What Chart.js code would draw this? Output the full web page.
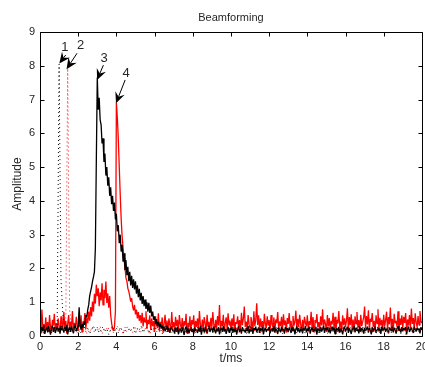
<!DOCTYPE html>
<html>
<head>
<meta charset="utf-8">
<title>Beamforming</title>
<script src="https://cdn.jsdelivr.net/npm/chart.js@4.4.0/dist/chart.umd.min.js"></script>
<style>
  html, body { margin: 0; padding: 0; background: #fff; overflow: hidden; }
  #wrap { width: 425px; height: 367px; overflow: hidden; }
  canvas { display: block; }
</style>
</head>
<body>
<div id="wrap"><canvas id="beamChart" width="432" height="367"></canvas></div>
<script>
// axis ticks
const xTicks = [0, 2, 4, 6, 8, 10, 12, 14, 16, 18, 20];
const yTicks = [0, 1, 2, 3, 4, 5, 6, 7, 8, 9];

// red solid trace, sampled every 0.05 ms from 0 ms
const redStart = 0, redStep = 0.05;
const redSolid = [
  0.42,0.15,0.78,0.22,0.35,0.08,0.55,0.18,0.41,0.12,0.62,0.25,0.09,0.48,0.31,0.66,0.14,0.38,0.21,0.52,
  0.27,0.11,0.58,0.33,0.19,0.71,0.24,0.45,0.07,0.36,0.62,0.17,0.43,0.28,0.74,0.13,0.39,0.22,0.57,0.31,
  0.16,0.49,0.26,0.61,0.12,0.44,0.34,0.68,0.21,0.53,0.38,0.72,0.45,0.86,0.58,1.02,0.72,1.25,0.96,1.52,
  1.18,1.41,0.88,1.29,1.05,1.56,0.92,1.37,1.12,1.61,0.98,1.26,0.84,1.18,0.63,0.38,0.22,0.15,0.26,0.74,
  6.92,6.45,5.85,5.02,4.21,3.48,2.95,2.62,2.31,2.05,1.72,1.63,1.41,1.32,1.18,1.02,1.12,0.88,0.76,0.92,
  0.64,0.78,0.52,0.71,0.45,0.62,0.38,0.69,0.28,0.55,0.41,0.73,0.22,0.48,0.35,0.61,0.18,0.52,0.29,0.44,
  0.12,0.58,0.33,0.24,0.67,0.15,0.42,0.28,0.55,0.09,0.37,0.63,0.21,0.46,0.13,0.52,0.32,0.19,0.71,0.26,
  0.41,0.14,0.57,0.29,0.48,0.11,0.62,0.35,0.22,0.53,0.17,0.44,0.31,0.66,0.08,0.39,0.25,0.58,0.16,0.47,
  0.34,0.61,0.12,0.45,0.27,0.52,0.19,0.74,0.33,0.15,0.49,0.23,0.56,0.38,0.11,0.63,0.28,0.42,0.18,0.54,
  0.26,0.71,0.35,0.14,0.48,0.22,0.59,0.31,0.92,0.17,0.45,0.29,0.63,0.12,0.38,0.55,0.21,0.67,0.33,0.46,
  0.19,0.52,0.28,0.64,0.13,0.41,0.36,0.58,0.24,0.47,0.15,0.69,0.32,0.51,0.87,0.27,0.43,0.18,0.62,0.35,
  0.22,0.56,0.41,0.14,0.73,0.29,0.48,0.97,0.33,0.61,0.18,0.52,0.26,0.44,0.12,0.66,0.37,0.23,0.58,0.31,
  0.47,0.16,0.62,0.34,0.25,0.55,0.13,0.49,0.38,0.71,0.21,0.43,0.29,0.57,0.17,0.64,0.32,0.46,0.11,0.53,
  0.36,0.68,0.24,0.45,0.15,0.59,0.31,0.42,0.75,0.19,0.51,0.27,0.63,0.35,0.14,0.48,0.22,0.57,0.39,0.28,
  0.61,0.17,0.44,0.33,0.72,0.21,0.56,0.12,0.47,0.38,0.65,0.26,0.41,0.18,0.58,0.31,0.79,0.23,0.49,0.36,
  0.14,0.62,0.28,0.53,0.19,0.45,0.34,0.69,0.22,0.57,0.11,0.48,0.37,0.74,0.25,0.43,0.16,0.61,0.32,0.52,
  0.27,0.45,0.82,0.18,0.56,0.33,0.64,0.21,0.49,0.13,0.58,0.36,0.71,0.24,0.47,0.15,0.63,0.29,0.42,0.55,
  0.87,0.22,0.59,0.34,0.76,0.18,0.51,0.42,0.68,0.26,0.45,0.13,0.61,0.37,0.79,0.21,0.54,0.31,0.48,0.17,
  0.63,0.28,0.47,0.72,0.19,0.56,0.35,0.84,0.23,0.51,0.14,0.66,0.38,0.45,0.27,0.73,0.16,0.52,0.33,0.61,
  0.24,0.57,0.39,0.68,0.15,0.49,0.31,0.62,0.22,0.81,0.36,0.53,0.18,0.67,0.41,0.26,0.59,0.32,0.74,0.45,
  0.38
];

// black solid trace, sampled every 0.05 ms from 0 ms
const blackStart = 0, blackStep = 0.05;
const blackSolid = [
  0.21,0.08,0.27,0.14,0.32,0.06,0.19,0.25,0.11,0.29,0.16,0.04,0.23,0.31,0.12,0.26,0.09,0.18,0.28,0.13,
  0.24,0.07,0.30,0.17,0.22,0.10,0.27,0.15,0.33,0.05,0.20,0.26,0.12,0.29,0.18,0.08,0.25,0.34,0.14,0.22,
  0.28,0.85,0.31,0.19,0.36,0.24,0.42,0.33,0.62,0.55,0.78,0.92,1.18,1.32,1.45,1.62,1.75,1.90,2.60,5.20,
  7.65,6.70,7.05,6.40,6.25,5.70,5.85,5.15,5.40,4.75,5.00,4.45,4.70,4.15,4.40,3.90,4.15,3.70,3.95,3.45,
  3.62,3.10,3.28,2.75,3.00,2.50,2.70,2.20,2.45,1.95,2.25,1.80,2.05,1.62,1.90,1.50,1.78,1.42,1.68,1.38,
  1.62,1.25,1.50,1.15,1.40,1.05,1.28,0.95,1.18,0.88,1.08,0.80,1.00,0.72,0.98,0.68,0.90,0.58,0.72,0.48,
  0.58,0.36,0.50,0.30,0.42,0.26,0.36,0.22,0.31,0.18,0.28,0.14,0.22,0.31,0.12,0.25,0.09,0.21,0.28,0.15,
  0.18,0.07,0.24,0.13,0.27,0.05,0.16,0.22,0.10,0.26,0.14,0.03,0.20,0.28,0.11,0.23,0.08,0.17,0.25,0.12,
  0.21,0.06,0.26,0.15,0.19,0.09,0.24,0.13,0.29,0.04,0.18,0.23,0.11,0.27,0.16,0.07,0.22,0.30,0.12,0.20,
  0.25,0.10,0.28,0.17,0.08,0.22,0.14,0.26,0.05,0.19,0.24,0.12,0.29,0.15,0.21,0.06,0.18,0.27,0.11,0.23,
  0.16,0.27,0.09,0.21,0.13,0.25,0.04,0.19,0.28,0.12,0.22,0.07,0.26,0.15,0.18,0.10,0.24,0.14,0.29,0.08,
  0.20,0.13,0.26,0.06,0.23,0.17,0.28,0.11,0.19,0.25,0.09,0.22,0.14,0.27,0.05,0.18,0.24,0.12,0.21,0.16,
  0.27,0.08,0.19,0.24,0.13,0.29,0.10,0.22,0.16,0.06,0.25,0.18,0.11,0.28,0.14,0.21,0.07,0.26,0.17,0.23,
  0.12,0.25,0.18,0.09,0.27,0.15,0.22,0.05,0.20,0.28,0.13,0.24,0.10,0.19,0.26,0.08,0.23,0.16,0.29,0.11,
  0.22,0.14,0.28,0.07,0.19,0.25,0.12,0.21,0.16,0.27,0.04,0.23,0.18,0.10,0.26,0.13,0.20,0.29,0.09,0.24,
  0.17,0.26,0.11,0.23,0.08,0.20,0.28,0.14,0.25,0.06,0.19,0.22,0.13,0.27,0.10,0.24,0.16,0.05,0.21,0.28,
  0.13,0.21,0.27,0.09,0.24,0.16,0.06,0.22,0.18,0.29,0.11,0.25,0.15,0.20,0.08,0.26,0.12,0.23,0.19,0.07,
  0.24,0.15,0.20,0.28,0.10,0.23,0.17,0.05,0.26,0.13,0.21,0.27,0.09,0.18,0.25,0.14,0.22,0.06,0.28,0.16,
  0.19,0.27,0.12,0.22,0.16,0.08,0.25,0.20,0.14,0.28,0.11,0.24,0.18,0.07,0.23,0.29,0.15,0.21,0.10,0.26,
  0.14,0.23,0.18,0.26,0.05,0.21,0.28,0.12,0.19,0.24,0.16,0.09,0.27,0.20,0.13,0.25,0.17,0.22,0.08,0.26,
  0.18
];

// black dotted trace, sampled every 0.1 ms from 0 ms
const dotBlackStart = 0, dotBlackStep = 0.1;
const dotBlack = [
  0.12,0.22,0.08,0.18,0.27,0.10,0.20,0.15,0.25,0.32,8.05,1.65,0.62,0.28,0.14,0.24,0.09,0.19,0.26,0.11,
  0.21,0.07,0.17,0.28,0.13,0.23,0.06,0.19,0.29,0.15,0.25,0.09,0.20,0.27,0.12,0.22,0.05,0.18,0.30,0.14,
  0.24,0.10,0.26,0.16,0.08,0.21,0.28,0.13,0.19,0.25,0.07,0.23,0.17,0.29,0.11,0.20,0.26,0.09,0.22,0.15,
  0.27,0.12,0.18,0.24,0.06,0.21,0.29,0.14,0.25,0.10,0.19,0.28,0.08,0.23,0.16,0.26,0.11,0.20,0.13,0.27,
  0.09,0.22,0.17,0.30,0.12,0.25,0.07,0.19,0.26,0.15,0.21,0.10,0.28,0.18,0.24,0.06,0.20,0.27,0.13,0.23,
  0.16,0.29,0.08,0.21,0.26,0.11,0.24,0.18,0.05,0.22,0.28,0.14,0.19,0.25,0.09,0.27,0.15,0.23,0.12,0.20,
  0.26,0.10,0.23,0.17,0.29,0.13,0.21,0.07,0.25,0.18,0.11,0.27,0.16,0.24,0.08,0.20,0.28,0.14,0.22,0.06,
  0.19,0.25,0.12,0.28,0.15,0.22,0.09,0.26,0.17,0.23,0.13,0.30,0.10,0.21,0.27,0.16,0.24,0.07,0.20,0.29,
  0.14,0.23,0.18,0.08,0.26,0.21,0.12,0.28,0.16,0.25,0.06,0.22,0.19,0.27,0.11,0.24,0.15,0.29,0.09,0.20,
  0.25,0.13,0.21,0.28,0.10,0.18,0.26,0.15,0.23,0.07,0.20,0.27,0.12,0.24,0.17,0.29,0.11,0.22,0.16,0.26,
  0.19
];

// red dotted trace, sampled every 0.1 ms from 0.05 ms
const dotRedStart = 0.05, dotRedStep = 0.1;
const dotRed = [
  0.18,0.09,0.26,0.14,0.21,0.07,0.24,0.16,0.29,0.11,0.20,0.27,0.13,0.31,7.92,0.78,0.32,0.15,0.23,0.10,
  0.25,0.12,0.19,0.28,0.08,0.22,0.17,0.26,0.11,0.24,0.14,0.29,0.06,0.21,0.18,0.27,0.13,0.23,0.09,0.20,
  0.28,0.15,0.22,0.07,0.26,0.12,0.19,0.24,0.10,0.29,0.16,0.21,0.08,0.25,0.13,0.27,0.18,0.05,0.23,0.14,
  0.20,0.26,0.11,0.23,0.17,0.28,0.09,0.22,0.15,0.25,0.06,0.19,0.27,0.12,0.24,0.16,0.21,0.10,0.28,0.13,
  0.23,0.08,0.26,0.18,0.12,0.25,0.20,0.07,0.22,0.29,0.14,0.19,0.24,0.11,0.27,0.16,0.09,0.21,0.26,0.15,
  0.12,0.24,0.19,0.28,0.06,0.21,0.15,0.26,0.10,0.23,0.18,0.29,0.13,0.20,0.25,0.08,0.22,0.17,0.27,0.11,
  0.26,0.14,0.21,0.09,0.24,0.18,0.28,0.12,0.20,0.07,0.25,0.16,0.23,0.29,0.10,0.19,0.26,0.13,0.22,0.17,
  0.09,0.27,0.15,0.22,0.19,0.25,0.11,0.28,0.16,0.21,0.06,0.24,0.18,0.13,0.26,0.20,0.08,0.23,0.29,0.14,
  0.21,0.16,0.28,0.10,0.23,0.13,0.26,0.19,0.07,0.25,0.17,0.22,0.11,0.27,0.15,0.24,0.09,0.20,0.28,0.12,
  0.18,0.25,0.08,0.22,0.27,0.14,0.20,0.11,0.26,0.16,0.23,0.05,0.29,0.19,0.13,0.24,0.17,0.28,0.10,0.21
];

// numbered arrows pointing at the four peaks (data coordinates)
const markLabels = ['1', '2', '3', '4'];
const markTipT  = [1.01, 1.39, 2.99, 3.98];
const markTipA  = [8.07, 7.90, 7.58, 6.89];
const markTailT = [1.35, 1.94, 3.32, 4.46];
const markTailA = [8.32, 8.37, 8.02, 7.58];
const markTextT = [1.30, 2.13, 3.36, 4.51];
const markTextA = [8.53, 8.61, 8.22, 7.76];

const FONT = "'Liberation Sans', Arial, Helvetica, sans-serif";
const TEXT = '#262626';

function toPoints(start, step, values) {
    return values.map((v, i) => ({ x: +(start + i * step).toFixed(3), y: v }));
}

// MATLAB-like box with ticks pointing inwards on all four sides, plus the title
const axesBox = {
    id: 'axesBox',
    afterDatasetsDraw(chart) {
        const { ctx, chartArea: a, scales: { x, y } } = chart;
        ctx.save();
        ctx.strokeStyle = '#000';
        ctx.lineWidth = 1;
        const l = Math.round(a.left) + 0.5, r = Math.round(a.right) + 0.5;
        const t = Math.round(a.top) + 0.5, b = Math.round(a.bottom) + 0.5;
        ctx.beginPath();
        ctx.rect(l, t, r - l, b - t);
        xTicks.forEach(v => {
            const px = Math.round(x.getPixelForValue(v)) + 0.5;
            ctx.moveTo(px, b); ctx.lineTo(px, b - 4);
            ctx.moveTo(px, t); ctx.lineTo(px, t + 4);
        });
        yTicks.forEach(v => {
            const py = Math.round(y.getPixelForValue(v)) + 0.5;
            ctx.moveTo(l, py); ctx.lineTo(l + 4, py);
            ctx.moveTo(r, py); ctx.lineTo(r - 4, py);
        });
        ctx.stroke();

        ctx.fillStyle = TEXT;
        ctx.font = '11px ' + FONT;
        ctx.textAlign = 'center';
        ctx.textBaseline = 'middle';
        ctx.fillText('Beamforming', (a.left + a.right) / 2, 18);
        ctx.restore();
    }
};

// arrows with filled heads and the peak numbers
const peakMarks = {
    id: 'peakMarks',
    afterDraw(chart) {
        const { ctx, scales: { x, y } } = chart;
        ctx.save();
        ctx.lineWidth = 1;
        markLabels.forEach((label, i) => {
            const tx = x.getPixelForValue(markTipT[i]), ty = y.getPixelForValue(markTipA[i]);
            const sx = x.getPixelForValue(markTailT[i]), sy = y.getPixelForValue(markTailA[i]);
            const ang = Math.atan2(ty - sy, tx - sx);
            const len = 11, half = 5, notch = 7;
            const c = Math.cos(ang), s = Math.sin(ang);
            ctx.strokeStyle = '#000';
            ctx.fillStyle = '#000';
            ctx.beginPath();
            ctx.moveTo(sx, sy);
            ctx.lineTo(tx - c * notch, ty - s * notch);
            ctx.stroke();
            const bx = tx - c * len, by = ty - s * len;
            ctx.beginPath();
            ctx.moveTo(tx, ty);
            ctx.lineTo(bx + s * half, by - c * half);
            ctx.lineTo(tx - c * notch, ty - s * notch);
            ctx.lineTo(bx - s * half, by + c * half);
            ctx.closePath();
            ctx.fill();

            ctx.fillStyle = TEXT;
            ctx.font = '13px ' + FONT;
            ctx.textAlign = 'center';
            ctx.textBaseline = 'middle';
            ctx.fillText(label, x.getPixelForValue(markTextT[i]), y.getPixelForValue(markTextA[i]));
        });
        ctx.restore();
    }
};

function lineSet(label, pts, color, width, dash) {
    return {
        label: label,
        data: pts,
        borderColor: color,
        borderWidth: width,
        borderDash: dash || [],
        borderJoinStyle: 'bevel',
        pointRadius: 0,
        tension: 0,
        fill: false
    };
}

new Chart(document.getElementById('beamChart'), {
    type: 'line',
    data: {
        datasets: [
            lineSet('Dotted black', toPoints(dotBlackStart, dotBlackStep, dotBlack), '#000000', 1, [1, 3]),
            lineSet('Dotted red', toPoints(dotRedStart, dotRedStep, dotRed), '#ff0000', 1, [1, 3]),
            lineSet('Black', toPoints(blackStart, blackStep, blackSolid), '#000000', 1.3),
            lineSet('Red', toPoints(redStart, redStep, redSolid), '#ff0000', 1.3)
        ]
    },
    options: {
        responsive: false,
        animation: false,
        devicePixelRatio: 1,
        parsing: false,
        normalized: true,
        layout: { padding: { left: 0, right: 6.6, top: 32, bottom: 0 } },
        plugins: {
            legend: { display: false },
            tooltip: { enabled: false },
            title: { display: false }
        },
        scales: {
            x: {
                type: 'linear',
                min: 0,
                max: 20,
                afterBuildTicks: s => { s.ticks = xTicks.map(v => ({ value: v })); },
                afterFit: s => { s.height = 31; },
                grid: { display: false, drawTicks: false },
                border: { display: false },
                ticks: { color: TEXT, padding: 4, maxRotation: 0, autoSkip: false, font: { family: FONT, size: 11 } },
                title: { display: true, text: 't/ms', color: TEXT, font: { family: FONT, size: 12 }, padding: { top: 0, bottom: 1 } }
            },
            y: {
                type: 'linear',
                min: 0,
                max: 9,
                afterBuildTicks: s => { s.ticks = yTicks.map(v => ({ value: v })); },
                afterFit: s => { s.width = 40; },
                grid: { display: false, drawTicks: false },
                border: { display: false },
                ticks: { color: TEXT, padding: 5, autoSkip: false, font: { family: FONT, size: 11 } },
                title: { display: true, text: 'Amplitude', color: TEXT, font: { family: FONT, size: 12 }, padding: { top: 10, bottom: 0 } }
            }
        }
    },
    plugins: [axesBox, peakMarks]
});
</script>
</body>
</html>
